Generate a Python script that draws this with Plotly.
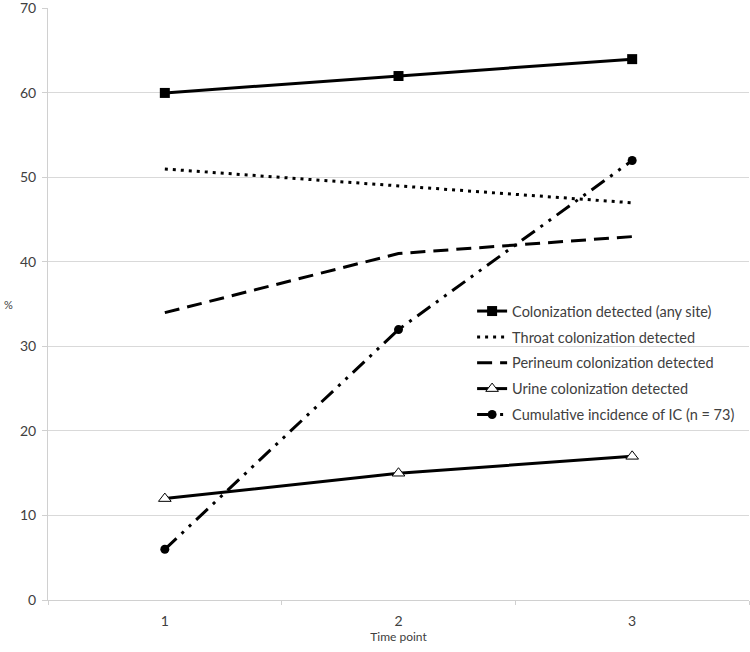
import plotly.graph_objects as go

time_points = [1, 2, 3]
any_site = [60, 62, 64]
throat = [51, 49, 47]
perineum = [34, 41, 43]
urine = [12, 15, 17]
cumulative_ic = [6, 32, 52]

series_names = [
    "Colonization detected (any site)",
    "Throat colonization detected",
    "Perineum colonization detected",
    "Urine colonization detected",
    "Cumulative incidence of IC (n = 73)",
]
y_ticks = [0, 10, 20, 30, 40, 50, 60, 70]

FONT = "Lato"
fig = go.Figure()
fig.add_trace(go.Scatter(x=time_points, y=any_site, name=series_names[0], mode="lines+markers",
                         legendgroup="a",
                         line=dict(color="black", width=3),
                         marker=dict(symbol="square", size=10, color="black")))
fig.add_trace(go.Scatter(x=time_points, y=throat, name=series_names[1], mode="lines",
                         legendgroup="b",
                         line=dict(color="black", width=3, dash="3px,5px")))
fig.add_trace(go.Scatter(x=time_points, y=perineum, name=series_names[2], mode="lines",
                         legendgroup="c",
                         line=dict(color="black", width=3, dash="15px,8px")))
fig.add_trace(go.Scatter(x=time_points, y=urine, name=series_names[3], mode="lines+markers",
                         legendgroup="d",
                         line=dict(color="black", width=3),
                         marker=dict(symbol="triangle-up", size=11, color="white",
                                     line=dict(color="black", width=1))))
fig.add_trace(go.Scatter(x=time_points, y=cumulative_ic, name=series_names[4], mode="lines+markers",
                         legendgroup="e",
                         line=dict(color="black", width=3, dash="16px,7px,3px,7px,3px,7px"),
                         marker=dict(symbol="circle", size=9, color="black")))

fig.update_layout(
    width=750, height=652,
    margin=dict(l=48, r=1, t=8, b=52),
    paper_bgcolor="white", plot_bgcolor="white",
    font=dict(family=FONT, size=14, color="#404040"),
    showlegend=True,
    legend=dict(x=0.605, y=0.515, xanchor="left", yanchor="top",
                bgcolor="rgba(0,0,0,0)", font=dict(family=FONT, size=14.5, color="#404040"),
                tracegroupgap=4, itemwidth=30),
    xaxis=dict(range=[0.5, 3.5], tickvals=time_points, ticktext=["1", "2", "3"],
               showgrid=False, showline=True, linecolor="#d0d0d0", linewidth=1,
               ticks="", zeroline=False, automargin=False, ticklabelstandoff=8,
               tickfont=dict(size=14, color="#404040"),
               minor=dict(tick0=0.5, dtick=1, ticks="outside", ticklen=4,
                          tickcolor="#d0d0d0", showgrid=False),
               title=dict(text="Time point", font=dict(size=12, color="#404040"), standoff=4)),
    yaxis=dict(range=[0, 70.05], tickvals=y_ticks, showgrid=True, gridcolor="#d9d9d9", gridwidth=1,
               showline=True, linecolor="#d0d0d0", linewidth=1, zeroline=False,
               ticks="outside", ticklen=5, tickcolor="#d0d0d0", automargin=False,
               ticklabeloverflow="allow", ticklabelstandoff=3,
               tickfont=dict(size=14, color="#404040")),
    annotations=[dict(text="%", x=0, xref="paper", xanchor="right", xshift=-33,
                      y=35, yref="y", showarrow=False, font=dict(size=11, color="#404040"))],
)

fig.write_html("out.html", config={"displayModeBar": False},
               post_script="document.body.style.margin='0px';document.body.style.padding='0px';")
